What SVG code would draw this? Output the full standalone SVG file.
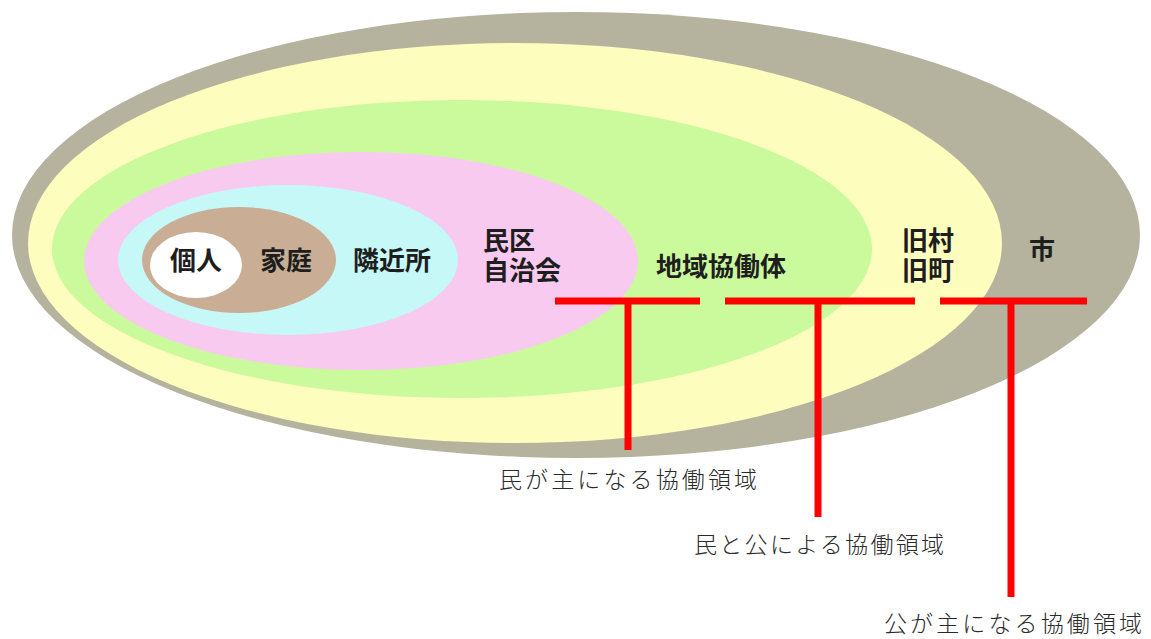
<svg xmlns="http://www.w3.org/2000/svg" width="1151" height="639" viewBox="0 0 1151 639">
<style>
.lbl{font-family:"Noto Sans CJK JP","Noto Sans CJK SC",sans-serif;font-weight:bold;font-size:26px;fill:#1e1e1e}
.cap{font-family:"Noto Sans CJK JP","Noto Sans CJK SC",sans-serif;font-weight:300;font-size:23px;fill:#2a2a2a}
.red{stroke:#ff0000;stroke-width:7;fill:none}
</style>
<rect width="1151" height="639" fill="#ffffff"/>
<g id="city"><ellipse cx="576" cy="235" rx="564" ry="223" fill="#b5b39e"/><text class="lbl" x="1042" y="259" text-anchor="middle">市</text></g>
<g id="village"><ellipse cx="515" cy="243" rx="487" ry="200" fill="#fdfdbd"/><text class="lbl" x="902" y="250">旧村<tspan x="902" dy="30">旧町</tspan></text></g>
<g id="region"><ellipse cx="462" cy="249" rx="410" ry="149" fill="#cbfa9c"/><text class="lbl" x="721" y="276" text-anchor="middle">地域協働体</text></g>
<g id="district"><ellipse cx="361" cy="261" rx="277" ry="109" fill="#f8caf0"/><text class="lbl" x="483" y="250">民区<tspan x="483" dy="30">自治会</tspan></text></g>
<g id="neighbors"><ellipse cx="288" cy="260" rx="170" ry="75" fill="#c6f8f8"/><text class="lbl" x="392" y="270" text-anchor="middle">隣近所</text></g>
<g id="family"><ellipse cx="239" cy="260" rx="97" ry="53" fill="#c9ae95"/><text class="lbl" x="286" y="270" text-anchor="middle">家庭</text></g>
<g id="individual"><ellipse cx="196" cy="265" rx="46" ry="33" fill="#ffffff"/><text class="lbl" x="196" y="270" text-anchor="middle">個人</text></g>
<g id="connectors">
<line class="red" x1="555" y1="301" x2="700" y2="301"/>
<line class="red" x1="628" y1="301" x2="628" y2="450"/>
<line class="red" x1="725" y1="301" x2="915" y2="301"/>
<line class="red" x1="818" y1="301" x2="818" y2="517"/>
<line class="red" x1="940" y1="301" x2="1087" y2="301"/>
<line class="red" x1="1011" y1="301" x2="1011" y2="597"/>
</g>
<g id="captions">
<text class="cap" x="499" y="488" textLength="258" lengthAdjust="spacing">民が主になる協働領域</text>
<text class="cap" x="694" y="553" textLength="250" lengthAdjust="spacing">民と公による協働領域</text>
<text class="cap" x="884" y="632" textLength="258" lengthAdjust="spacing">公が主になる協働領域</text>
</g>
</svg>
